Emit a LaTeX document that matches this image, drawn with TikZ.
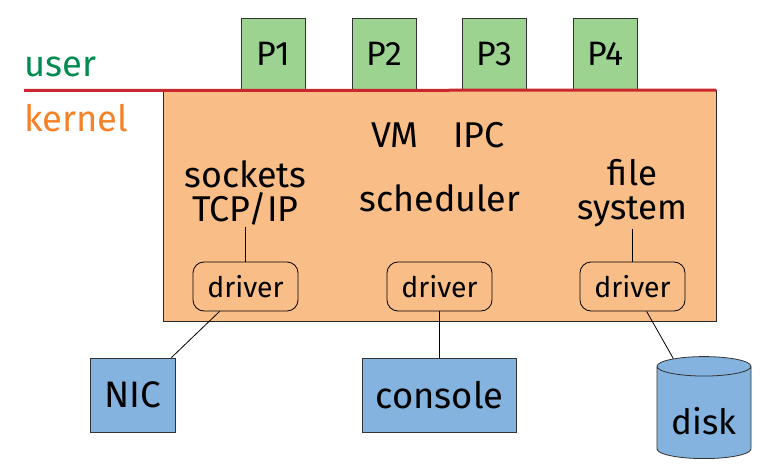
\documentclass[tikz,border=0pt]{standalone}
\usepackage{fontspec}
\setmainfont{Fira Sans}
\usepackage{tikz}
\usetikzlibrary{positioning}
\usetikzlibrary{shapes.geometric}
\definecolor{procgreen}{RGB}{156,211,144}
\definecolor{kernorange}{RGB}{249,189,135}
\definecolor{devblue}{RGB}{131,179,222}
\definecolor{usergreen}{RGB}{0,140,80}
\definecolor{kernlabel}{RGB}{245,130,40}
\definecolor{sepred}{RGB}{200,40,45}

\begin{document}
\begin{tikzpicture}[x=1bp,y=-1bp,
  proc/.style={draw=black!80,line width=0.8bp,fill=procgreen,minimum width=64bp,minimum height=72.5bp,inner sep=0pt,font=\fontsize{34}{36}\selectfont},
  kernbox/.style={draw=black!85,line width=0.8bp,fill=kernorange,minimum width=553bp,minimum height=230.5bp,inner sep=0pt},
  ktext/.style={inner sep=0pt,font=\fontsize{36}{39}\selectfont},
  ktwo/.style={inner sep=1pt,align=center,anchor=base,font=\fontsize{36}{35}\selectfont},
  drv/.style={draw=black,line width=0.8bp,fill=kernorange,rounded corners=11bp,minimum width=105bp,minimum height=49bp,inner sep=0pt,font=\fontsize{28.5}{30}\selectfont},
  dev/.style={draw=black!80,line width=0.8bp,fill=devblue,minimum height=74bp,inner sep=0pt,font=\fontsize{37}{40}\selectfont},
  link/.style={draw=black,line width=0.8bp}
]
\useasboundingbox (0,0) rectangle (760,465);
% processes on the user side
\foreach \i/\x in {1/273.5,2/384,3/494.5,4/605.5}
  \node[proc] (p\i) at (\x,54.25) {P\i};
% kernel block
\node[kernbox] (kern) at (439.5,205.75) {};
\coordinate (sepleft) at (24,90.5);
\draw[sepred,line width=3bp] (sepleft) -- (kern.north east);
\node[anchor=base west,inner sep=0pt,text=usergreen,font=\fontsize{36.5}{38}\selectfont] (user) at (24,77) {user};
\node[anchor=base west,inner sep=0pt,text=kernlabel,font=\fontsize{36.5}{38}\selectfont] (kernel) at (24,132) {kernel};
\node[ktext,anchor=base] (vm) at (395,148) {VM};
\node[ktext,anchor=base] (ipc) at (479,148) {IPC};
\node[ktext,anchor=base] (sched) at (440,212) {scheduler};
\node[ktwo] (sock) at (245.5,222) {sockets\\TCP/IP};
\node[ktwo,font=\fontsize{35}{35}\selectfont] (fs) at (632.5,220) {file\\system};
% drivers
\node[drv] (drv1) at (245.5,286.5) {driver};
\node[drv] (drv2) at (439.5,286.5) {driver};
\node[drv] (drv3) at (632.5,286.5) {driver};
% devices
\node[dev,minimum width=85bp] (nic) at (132.5,395) {NIC};
\node[dev,minimum width=154bp,font=\fontsize{36.5}{40}\selectfont] (console) at (439.5,395) {console};
\node[cylinder,shape border rotate=90,draw=black!80,line width=0.8bp,fill=devblue,minimum width=94bp,minimum height=102bp,shape aspect=0.3,inner sep=0pt,anchor=south,font=\fontsize{35}{38}\selectfont] (disk) at (704,459) {\raisebox{-8bp}[\height][0pt]{disk}};
\draw[link] (sock) -- (drv1);
\draw[link] (fs) -- (drv3);
\draw[link] (drv1) -- (nic);
\draw[link] (drv2) -- (console);
\draw[link] (drv3) -- (disk);
\end{tikzpicture}
\end{document}
